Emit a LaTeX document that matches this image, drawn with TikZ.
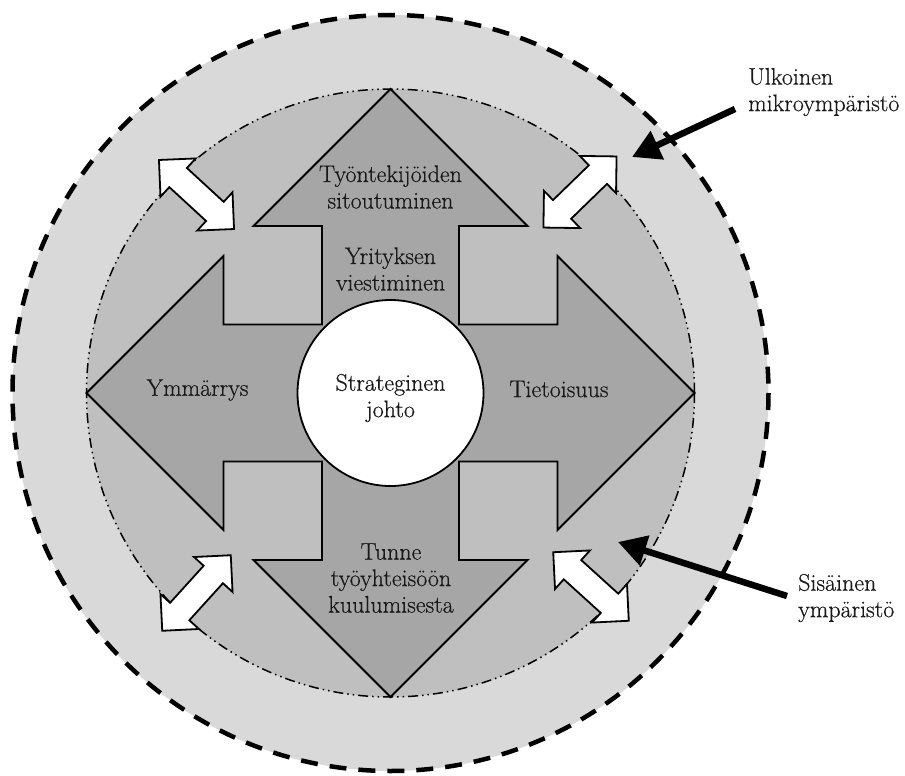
\documentclass[tikz,border=0pt]{standalone}
\usepackage{fontspec}
\newfontfamily\diagfont{Latin Modern Roman}[FakeBold=0.5]
\usetikzlibrary{arrows.meta,calc}
\definecolor{ringgray}{gray}{0.85}
\definecolor{diskgray}{gray}{0.75}
\definecolor{arrowgray}{gray}{0.65}
\definecolor{txtcol}{gray}{0.1}
\begin{document}
\begin{tikzpicture}[x=1pt,y=-1pt,
  lbl/.style={font=\diagfont\fontsize{24}{26.5}\selectfont, align=center, inner sep=0pt, text=txtcol},
  sidelbl/.style={lbl, align=left, anchor=west},
  outline/.style={draw=black, line width=1.8pt, line join=miter},
  pointer/.style={line width=6.5pt, -{Triangle[length=28pt,width=30pt]}},
  dblarrow/.pic={\draw[outline, fill=white] (51,0) -- (25,26) -- (25,13) -- (-25,13) -- (-25,26) -- (-51,0) -- (-25,-26) -- (-25,-13) -- (25,-13) -- (25,-26) -- cycle;}
]
\useasboundingbox (0,0) rectangle (905,776);
\coordinate (C) at (390.5,393);
% outer ring
\draw[fill=ringgray, line width=4.5pt, dash pattern=on 17pt off 12pt] (C) circle[radius=378];
% inner disk
\draw[fill=diskgray, line width=1.5pt, dash pattern=on 10pt off 4pt on 1.5pt off 4pt on 1.5pt off 4pt] (C) circle[radius=304];
% cross of four arrows
\begin{scope}[shift={(C)}]
\draw[outline, fill=arrowgray]
  (0,-304) -- (137,-167) -- (68.5,-167) -- (68.5,-68.5) -- (167,-68.5) -- (167,-137) --
  (304,0) -- (167,137) -- (167,68.5) -- (68.5,68.5) -- (68.5,167) -- (137,167) --
  (0,304) -- (-137,167) -- (-68.5,167) -- (-68.5,68.5) -- (-167,68.5) -- (-167,137) --
  (-304,0) -- (-167,-137) -- (-167,-68.5) -- (-68.5,-68.5) -- (-68.5,-167) -- (-137,-167) -- cycle;
\end{scope}
% central circle
\node[circle, draw=black, line width=1.8pt, fill=white, minimum size=186pt, inner sep=0pt] (core) at (C) {};
% white double arrows
\pic[rotate=-42.6] at (196.5,194.5) {dblarrow};
\pic[rotate=44.2] at (580,192) {dblarrow};
\pic[rotate=47.8] at (196.5,593) {dblarrow};
\pic[rotate=-42.2] at (591,586.5) {dblarrow};
% labels
\node[lbl] (sitout) at (390.5,187) {Työntekijöiden\\sitoutuminen};
\node[lbl] (viest) at (390.5,269) {Yrityksen\\viestiminen};
\node[lbl] (strat) at (390.5,398) {Strateginen\\johto};
\node[lbl] (ymm) at (197.5,390) {Ymmärrys};
\node[lbl] (tiet) at (559,389) {Tietoisuus};
\node[lbl] (tunne) at (391,578) {Tunne\\työyhteisöön\\kuulumisesta};
\node[sidelbl] (ulk) at (748,92) {Ulkoinen\\mikroympäristö};
\node[sidelbl] (sis) at (798,598) {Sisäinen\\ympäristö};
% pointers
\coordinate (ulkTail) at (735,109);
\coordinate (ulkTip) at (632,157);
\coordinate (sisTail) at (787,596);
\coordinate (sisTip) at (618,542);
\draw[pointer] (ulkTail) -- (ulkTip);
\draw[pointer] (sisTail) -- (sisTip);
\end{tikzpicture}
\end{document}
